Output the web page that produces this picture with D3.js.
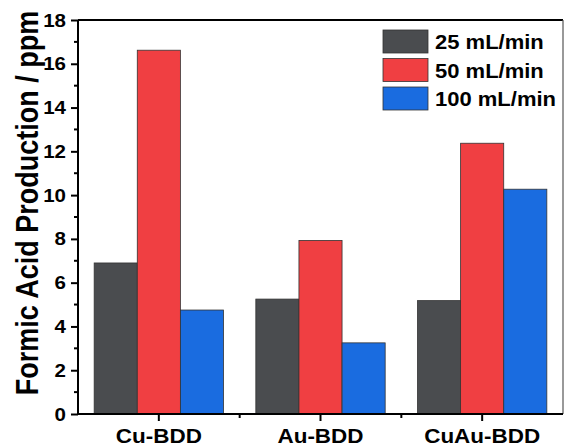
<!DOCTYPE html>
<html><head><meta charset="utf-8">
<script src="https://cdn.jsdelivr.net/npm/d3@7"></script>
<style>body{margin:0;background:#fff}svg{display:block}text{font-family:"Liberation Sans",Arial,sans-serif;font-weight:bold;fill:#000}</style>
</head><body><svg id="c" width="566" height="448"></svg>
<script>
const categories = ["Cu-BDD", "Au-BDD", "CuAu-BDD"];
const seriesNames = ["25 mL/min", "50 mL/min", "100 mL/min"];
const s25 = [6.9, 5.25, 5.18];
const s50 = [16.62, 7.93, 12.37];
const s100 = [4.75, 3.25, 10.27];
const yTicks = [0, 2, 4, 6, 8, 10, 12, 14, 16, 18];
const colors = ["#4a4c4f", "#f03f42", "#1a6ce0"];

const series = [s25, s50, s100];
const svg = d3.select("#c");
const L = 78, R = 563, T = 20, B = 414;
const x = d3.scaleBand().domain(categories).range([L, R]).paddingInner(0.2).paddingOuter(0.1);
const x1 = d3.scaleBand().domain(seriesNames).range([0, x.bandwidth()]);
const y = d3.scaleLinear().domain([0, 18]).range([B, T]);

// bars
categories.forEach((c, i) => {
  series.forEach((s, j) => {
    svg.append("rect")
      .attr("x", x(c) + x1(seriesNames[j]))
      .attr("y", y(s[i]))
      .attr("width", x1.bandwidth())
      .attr("height", y(0) - y(s[i]))
      .attr("fill", colors[j])
      .attr("stroke", "#333")
      .attr("stroke-width", 0.8);
  });
});

// frame top and right
svg.append("line").attr("x1", L).attr("x2", R).attr("y1", T).attr("y2", T).attr("stroke", "#000").attr("stroke-width", 2);
svg.append("line").attr("x1", R).attr("x2", R).attr("y1", T).attr("y2", B).attr("stroke", "#555").attr("stroke-width", 1.2);

// y axis
const yAxis = svg.append("g").attr("transform", `translate(${L},0)`)
  .call(d3.axisLeft(y).tickValues(yTicks).tickSize(7).tickPadding(0).tickFormat(d3.format("d")));
yAxis.select(".domain").attr("stroke-width", 2).attr("d", `M0,${T}V${B}`);
yAxis.selectAll(".tick line").attr("stroke-width", 2);
yAxis.selectAll(".tick text").attr("x", null)
  .attr("transform", "translate(-12,0) scale(1.08,1)")
  .style("font-size", "19px").style("font-weight", "bold").attr("font-family", null);
// minor y ticks
d3.range(1, 18, 2).forEach(v => {
  svg.append("line").attr("x1", L - 4).attr("x2", L).attr("y1", y(v)).attr("y2", y(v)).attr("stroke", "#000").attr("stroke-width", 2);
});

// x axis
const xAxis = svg.append("g").attr("transform", `translate(0,${B})`)
  .call(d3.axisBottom(x).tickSize(7).tickPadding(7));
xAxis.select(".domain").attr("stroke-width", 2).attr("d", `M${L},0H${R}`);
xAxis.selectAll(".tick line").attr("stroke-width", 2);
xAxis.selectAll(".tick text").attr("transform", "scale(1.07,1)")
  .style("font-size", "21px").style("font-weight", "bold").attr("font-family", null);
// minor x ticks between categories
for (let i = 0; i < categories.length - 1; i++) {
  const xm = (x(categories[i]) + x.bandwidth() / 2 + x(categories[i + 1]) + x.bandwidth() / 2) / 2;
  svg.append("line").attr("x1", xm).attr("x2", xm).attr("y1", B).attr("y2", B + 4).attr("stroke", "#000").attr("stroke-width", 2);
}

// y title
svg.append("text").attr("transform", `translate(38,203) rotate(-90) scale(1,1.18)`)
  .attr("text-anchor", "middle").style("font-size", "27px").text("Formic Acid Production / ppm");

// legend
const lg = svg.append("g");
seriesNames.forEach((n, j) => {
  const yy = 30 + j * 28.5;
  lg.append("rect").attr("x", 383).attr("y", yy).attr("width", 45).attr("height", 23)
    .attr("fill", colors[j]).attr("stroke", "#333").attr("stroke-width", 0.8);
  lg.append("text").attr("transform", `translate(435,${yy + 19}) scale(1.1,1)`)
    .style("font-size", "20px").text(n);
});
</script></body></html>
